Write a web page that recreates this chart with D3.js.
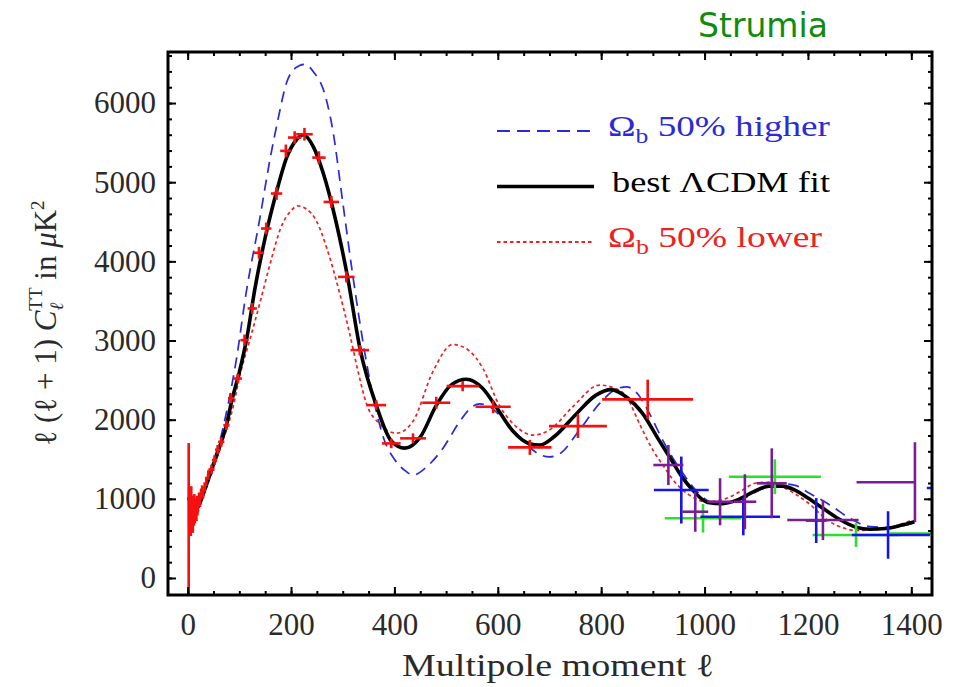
<!DOCTYPE html>
<html>
<head>
<meta charset="utf-8">
<script src="https://cdn.jsdelivr.net/npm/d3@7"></script>
<style>
  body { margin: 0; background: #fff; }
  svg { display: block; }
  text { font-family: "Liberation Serif", "Times New Roman", Times, serif; }
</style>
</head>
<body>
<svg id="svg" width="970" height="687"></svg>
<script>
"use strict";

// theory curves, [ell, l(l+1)C_l in muK^2]
const fitCurve = [[2,1020],[10,880],[20,900],[30,1060],[46,1360],[65,1720],[75,1930],[85,2230],[100,2600],[115,3050],[130,3650],[150,4300],[172,4880],[192,5320],[211,5540],[224,5600],[243,5450],[263,5100],[282,4640],[308,3850],[334,2880],[365,2180],[394,1730],[420,1640],[450,1780],[481,2180],[510,2440],[539,2510],[570,2400],[600,2130],[630,1850],[660,1700],[681,1680],[710,1790],[750,2060],[790,2310],[819,2380],[850,2280],[880,2080],[910,1760],[932,1532],[955,1290],[977,1111],[1006,955],[1035,940],[1065,990],[1095,1090],[1125,1160],[1150,1160],[1175,1110],[1200,1010],[1229,880],[1260,745],[1293,640],[1320,615],[1350,625],[1380,665],[1406,711]];

const highCurve = [[2,1030],[10,880],[20,900],[30,1070],[46,1400],[65,1800],[80,2250],[94,2750],[113,3595],[139,4520],[159,5278],[175,5800],[191,6250],[208,6440],[226,6490],[245,6380],[262,6180],[281,5650],[300,4750],[320,3800],[340,2950],[360,2250],[380,1750],[400,1500],[420,1360],[436,1300],[460,1390],[494,1640],[526,1973],[548,2150],[565,2200],[585,2160],[603,2060],[642,1784],[681,1560],[700,1530],[720,1570],[758,1869],[797,2205],[830,2390],[849,2415],[870,2330],[890,2120],[919,1742],[958,1322],[990,1060],[1020,940],[1050,950],[1080,1020],[1110,1120],[1150,1190],[1175,1170],[1203,1070],[1248,900],[1280,757],[1320,650],[1360,640],[1406,700]];

const lowCurve = [[2,1000],[10,860],[20,880],[30,1030],[46,1320],[65,1680],[88,2163],[101,2560],[120,3000],[140,3480],[160,3980],[180,4420],[200,4640],[213,4700],[230,4660],[250,4500],[270,4150],[294,3600],[313,3100],[330,2600],[346,2200],[371,1950],[404,1830],[436,1980],[474,2600],[513,2950],[545,2870],[571,2650],[603,2180],[636,1910],[668,1805],[700,1870],[745,2163],[797,2437],[825,2400],[849,2290],[874,1950],[900,1616],[920,1420],[939,1240],[970,1050],[1003,963],[1040,1000],[1068,1090],[1100,1200],[1130,1210],[1160,1120],[1200,950],[1242,711],[1270,630],[1293,600],[1351,630],[1402,732]];

// measurements, [ell, value, ell left, ell right, value error]
const wmapPts = [[2,745,0,0,960],[3,900,0,0,250],[4,750,0,0,200],[5,950,0,0,180],[6,700,0,0,170],[7,1000,0,0,160],[8,800,0,0,150],[9,900,0,0,140],[10,700,0,0,130],[11,850,0,0,130],[12,780,0,0,120],[13,950,0,0,110],[14,800,0,0,110],[15,880,0,0,100],[16,900,0,0,100],[17,820,0,0,100],[18,950,0,0,90],[19,880,0,0,90],[20,920,0,0,90],[22,1000,1,1,80],[24,980,1,1,80],[26,1060,1,1,70],[28,1100,1,1,70],[30,1080,2,2,70],[33,1150,2,2,60],[36,1220,2,2,60],[40,1300,3,3,60],[46,1370,6,6,60],[52,1490,5,5,60],[58,1620,5,5,60],[65,1720,6,6,60],[75,1930,6,6,60],[84,2270,6,6,60],[97,2520,8,8,60],[110,3005,8,8,70],[125,3405,9,9,70],[138,4108,10,10,75],[152,4415,10,10,75],[172,4857,11,11,80],[190,5396,11,11,80],[207,5564,13,13,80],[226,5606,16,16,80],[254,5311,13,13,80],[278,4751,15,15,75],[307,3804,16,16,70],[333,2879,18,18,65],[365,2184,19,19,60],[394,1700,18,18,60],[436,1764,25,25,63],[481,2214,27,27,75],[532,2424,31,31,65],[591,2163,34,34,80],[662,1650,42,42,95],[755,1919,56,56,150],[890,2256,88,88,250]];

const purplePts = [[930,1427,29,29,253],[982,837,25,25,253],[1030,963,25,25,297],[1078,963,22,22,347],[1130,1196,29,29,442],[1229,732,69,69,253],[1407,1210,113,0,505]];

const bluePts = [[955,1111,53,53,423],[1075,774,83,71,235],[1216,726,20,20,284],[1355,543,70,81,300],[1480,1136,50,50,300]];

const greenPts = [[997,754,74,74,180],[1136,1279,89,89,220],[1293,543,84,84,150],[1442,560,84,84,160]];

const xTicks = [0, 200, 400, 600, 800, 1000, 1200, 1400];
const yTicks = [0, 1000, 2000, 3000, 4000, 5000, 6000];

const legendItems = [
  { sym: "\u03A9", sub: "b", rest: " 50% higher", color: "#2a2ad8", curve: highCurve, dash: "11,7", width: 1.7, len: 222 },
  { sym: "", sub: "", rest: "best \u039BCDM fit", color: "#000", curve: fitCurve, dash: null, width: 3.6, len: 218 },
  { sym: "\u03A9", sub: "b", rest: " 50% lower", color: "#ee2020", curve: lowCurve, dash: "3.5,3", width: 1.7, len: 214 }
];

var svg = d3.select("svg");

var frameLeft = 168, frameRight = 932, frameTop = 52, frameBottom = 595;

var x = d3.scaleLinear().domain([-38, 1440]).range([frameLeft, frameRight]);
var y = d3.scaleLinear().domain([-215, 6645]).range([frameBottom, frameTop]);

svg.append("clipPath").attr("id", "frameClip")
  .append("rect")
    .attr("x", frameLeft).attr("y", frameTop)
    .attr("width", frameRight - frameLeft).attr("height", frameBottom - frameTop);

var plot = svg.append("g").attr("clip-path", "url(#frameClip)");

var line = d3.line()
  .x(d => x(d[0]))
  .y(d => y(d[1]))
  .curve(d3.curveMonotoneX);

// theory curves: dashed and dotted ones under the solid fit
[legendItems[0], legendItems[2], legendItems[1]].forEach(function(it) {
  plot.append("path")
    .datum(it.curve)
    .attr("fill", "none")
    .attr("stroke", it.color)
    .attr("stroke-width", it.width)
    .attr("stroke-dasharray", it.dash)
    .attr("stroke-linejoin", "round")
    .attr("d", line);
});

function drawCrosses(pts, color)
{
  var g = plot.append("g")
    .attr("stroke", color)
    .attr("stroke-width", 2.6);

  g.selectAll(".hbar")
    .data(pts.filter(d => d[2] + d[3] > 0))
    .join("line")
      .attr("class", "hbar")
      .attr("x1", d => x(d[0] - d[2]))
      .attr("x2", d => x(d[0] + d[3]))
      .attr("y1", d => y(d[1]))
      .attr("y2", d => y(d[1]));

  g.selectAll(".vbar")
    .data(pts)
    .join("line")
      .attr("class", "vbar")
      .attr("x1", d => x(d[0]))
      .attr("x2", d => x(d[0]))
      .attr("y1", d => y(d[1] - d[4]))
      .attr("y2", d => y(d[1] + d[4]));
}

drawCrosses(greenPts, "#2ae02a");
drawCrosses(bluePts, "#1515e8");
drawCrosses(purplePts, "#7a1c96");
drawCrosses(wmapPts, "#f51010");

// axes: ticks inside on all four sides
function tickAxis(axis, vals, size, pos, labels)
{
  var g = svg.append("g")
    .attr("transform", pos)
    .call(axis.tickValues(vals).tickSize(size).tickPadding(12)
      .tickFormat(labels ? d3.format("d") : ""));
  g.select(".domain").remove();
  g.selectAll(".tick line").attr("stroke", "#000").attr("stroke-width", 2);
  g.selectAll(".tick text")
    .attr("font-size", 31)
    .attr("fill", "#2a2a2a")
    .style("font-family", "'Liberation Serif', 'Times New Roman', serif");
  return g;
}

var xMinor = d3.range(0, 1401, 50);
var yMinor = d3.range(0, 6601, 200);

tickAxis(d3.axisBottom(x), xMinor, -4, "translate(0," + frameBottom + ")", false);
tickAxis(d3.axisBottom(x), xTicks, -8, "translate(0," + frameBottom + ")", true)
  .selectAll(".tick text").attr("y", 40).attr("dy", 0);
tickAxis(d3.axisTop(x), xMinor, -4, "translate(0," + frameTop + ")", false);
tickAxis(d3.axisTop(x), xTicks, -8, "translate(0," + frameTop + ")", false);
tickAxis(d3.axisLeft(y), yMinor, -4, "translate(" + frameLeft + ",0)", false);
tickAxis(d3.axisLeft(y), yTicks, -8, "translate(" + frameLeft + ",0)", true)
  .selectAll(".tick text").attr("x", -12);
tickAxis(d3.axisRight(y), yMinor, -4, "translate(" + frameRight + ",0)", false);
tickAxis(d3.axisRight(y), yTicks, -8, "translate(" + frameRight + ",0)", false);

svg.append("rect")
  .attr("x", frameLeft).attr("y", frameTop)
  .attr("width", frameRight - frameLeft).attr("height", frameBottom - frameTop)
  .attr("fill", "none")
  .attr("stroke", "#000")
  .attr("stroke-width", 3);

// legend
var legend = svg.append("g");
legendItems.forEach(function(it, i) {
  var by = 136 + i * 55.5;
  legend.append("line")
    .attr("x1", 497).attr("x2", 594)
    .attr("y1", by - 5).attr("y2", by - 5)
    .attr("stroke", it.color)
    .attr("stroke-width", it.dash ? 2.2 : 3.6)
    .attr("stroke-dasharray", it.dash === "11,7" ? "13,7" : it.dash);
  var t = legend.append("text")
    .attr("x", i === 1 ? 612 : 608)
    .attr("y", by)
    .attr("font-size", 29)
    .attr("fill", it.color)
    .attr("textLength", it.len)
    .attr("lengthAdjust", "spacingAndGlyphs");
  if (it.sym) {
    t.append("tspan").text(it.sym);
    t.append("tspan").attr("font-size", 20).attr("dy", 7).text(it.sub);
    t.append("tspan").attr("dy", -7).text(it.rest);
  } else {
    t.text(it.rest);
  }
});

// axis titles
svg.append("text")
  .attr("x", 558)
  .attr("y", 676)
  .attr("text-anchor", "middle")
  .attr("font-size", 32)
  .attr("fill", "#2a2a2a")
  .attr("textLength", 312)
  .attr("lengthAdjust", "spacingAndGlyphs")
  .text("Multipole moment \u2113");

var yl = svg.append("text")
  .attr("transform", "translate(56,323) rotate(-90)")
  .attr("text-anchor", "middle")
  .attr("font-size", 31)
  .attr("fill", "#2a2a2a");
yl.append("tspan").text("\u2113 (\u2113 + 1) ");
yl.append("tspan").attr("font-style", "italic").text("C");
yl.append("tspan").attr("font-style", "italic").attr("font-size", 19).attr("dy", 7).text("\u2113");
yl.append("tspan").attr("font-size", 19).attr("dx", -8).attr("dy", -21).text("TT");
yl.append("tspan").attr("dy", 14).text("  in ");
yl.append("tspan").attr("font-style", "italic").text("\u03BC");
yl.append("tspan").text("K");
yl.append("tspan").attr("font-size", 19).attr("dy", -12).text("2");

svg.append("text")
  .attr("x", 698)
  .attr("y", 37)
  .attr("font-size", 33)
  .attr("fill", "#0e8c0e")
  .style("font-family", "'DejaVu Sans', Verdana, sans-serif")
  .text("Strumia");
</script>
</body>
</html>
